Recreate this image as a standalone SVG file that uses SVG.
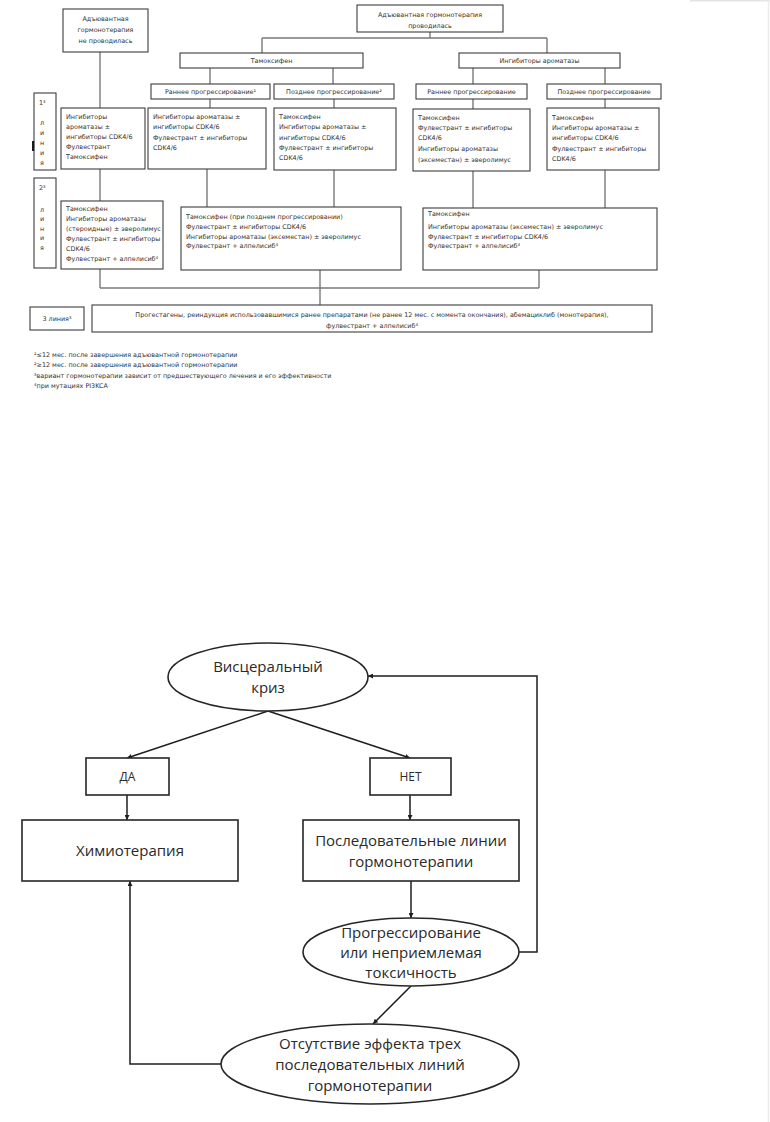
<svg xmlns="http://www.w3.org/2000/svg" width="770" height="1122" viewBox="0 0 770 1122">
<style>
.b{fill:#fff;stroke:#3c3c3c;stroke-width:1.1}
.t{font-family:"DejaVu Sans",Verdana,sans-serif;font-size:6.4px;fill:#333}
.c{text-anchor:middle}
.ln{stroke:#7a7a7a;stroke-width:1.4;fill:none}
.B{fill:#fff;stroke:#262626;stroke-width:1.6}
.T{font-family:"Open Sans","Liberation Sans",sans-serif;font-size:15px;fill:#2a2a2a;text-anchor:middle}
.S{font-size:12px}
.L{stroke:#1e1e1e;stroke-width:1.5;fill:none}
</style>
<defs>
<marker id="ah" viewBox="0 0 10 10" refX="10" refY="5" markerWidth="5" markerHeight="5" orient="auto" markerUnits="userSpaceOnUse">
<path d="M0,0 L10,5 L0,10 z" fill="#1e1e1e"/>
</marker>
</defs>
<rect width="770" height="1122" fill="#fff"/>
<line x1="690" y1="0.8" x2="770" y2="0.8" stroke="#e4e4e4" stroke-width="1.6"/>
<line x1="768.5" y1="0" x2="768.5" y2="1122" stroke="#ececec" stroke-width="1.5"/>

<g id="connectors-top">
<path class="ln" d="M430,32V38M262,38H547M262,38V53M547,38V53"/>
<path class="ln" d="M210,68V84M333,68V84M473,68V84M605,68V84"/>
<path class="ln" d="M210,99V108M334,99V108M473,99V109M605,99V108"/>
<path class="ln" d="M100,52V108M100,169V201M207,169V207M334,170V207M473,171V208M605,170V208"/>
<path class="ln" d="M100,269V288M320,270V288M539,270V288M100,288H539M320,288V305"/>
</g>

<g id="n-noadj"><rect class="b" x="63" y="9" width="85" height="43"/>
<text class="t c" x="105.5" y="21">Адъювантная</text><text class="t c" x="105.5" y="32">гормонотерапия</text><text class="t c" x="105.5" y="42.5">не проводилась</text></g>
<g id="n-adj"><rect class="b" x="357" y="5" width="146" height="27"/>
<text class="t c" x="430" y="17">Адъювантная  гормонотерапия</text><text class="t c" x="430" y="27.5">проводилась</text></g>
<g id="n-tam"><rect class="b" x="180" y="53" width="183" height="15"/><text class="t c" x="271.5" y="63">Тамоксифен</text></g>
<g id="n-ai"><rect class="b" x="459" y="53" width="161" height="15"/><text class="t c" x="539.5" y="63">Ингибиторы ароматазы</text></g>

<g id="p-a"><rect class="b" x="151" y="84" width="119" height="15"/><text class="t c" x="210.5" y="94">Раннее прогрессирование¹</text></g>
<g id="p-b"><rect class="b" x="274" y="84" width="120" height="15"/><text class="t c" x="334" y="94">Позднее прогрессирование²</text></g>
<g id="p-c"><rect class="b" x="416" y="84" width="111" height="15"/><text class="t c" x="471.5" y="94">Раннее прогрессирование</text></g>
<g id="p-d"><rect class="b" x="547" y="84" width="114" height="15"/><text class="t c" x="604" y="94">Позднее прогрессирование</text></g>

<g id="line1"><rect class="b" x="34" y="93" width="22" height="77"/>
<text class="t" x="39" y="105">1³</text>
<text class="t" x="40" y="125">л</text><text class="t" x="40" y="135">и</text><text class="t" x="40" y="145">н</text><text class="t" x="40" y="155">и</text><text class="t" x="40" y="165">я</text>
<rect x="32" y="141" width="2.2" height="10" fill="#1a1a1a"/></g>

<g id="c1-l"><rect class="b" x="61" y="108" width="84" height="61"/>
<text class="t" x="66" y="119">Ингибиторы</text><text class="t" x="66" y="129">ароматазы ±</text><text class="t" x="66" y="139">ингибиторы CDK4/6</text><text class="t" x="66" y="149">Фулвестрант</text><text class="t" x="66" y="159">Тамоксифен</text></g>
<g id="c1-a"><rect class="b" x="148" y="108" width="118" height="61"/>
<text class="t" x="153" y="119">Ингибиторы ароматазы ±</text><text class="t" x="153" y="129">ингибиторы CDK4/6</text><text class="t" x="153" y="140">Фулвестрант ± ингибиторы</text><text class="t" x="153" y="150">CDK4/6</text></g>
<g id="c1-b"><rect class="b" x="274" y="108" width="122" height="62"/>
<text class="t" x="279" y="119">Тамоксифен</text><text class="t" x="279" y="129">Ингибиторы ароматазы ±</text><text class="t" x="279" y="140">ингибиторы CDK4/6</text><text class="t" x="279" y="150">Фулвестрант ± ингибиторы</text><text class="t" x="279" y="160">CDK4/6</text></g>
<g id="c1-c"><rect class="b" x="413" y="109" width="117" height="62"/>
<text class="t" x="418" y="120">Тамоксифен</text><text class="t" x="418" y="130">Фулвестрант ± ингибиторы</text><text class="t" x="418" y="140">CDK4/6</text><text class="t" x="418" y="151">Ингибиторы ароматазы</text><text class="t" x="418" y="162">(эксеместан) ± эверолимус</text></g>
<g id="c1-d"><rect class="b" x="547" y="108" width="112" height="62"/>
<text class="t" x="552" y="120">Тамоксифен</text><text class="t" x="552" y="130">Ингибиторы ароматазы ±</text><text class="t" x="552" y="140">ингибиторы CDK4/6</text><text class="t" x="552" y="151">Фулвестрант ± ингибиторы</text><text class="t" x="552" y="161">CDK4/6</text></g>

<g id="line2"><rect class="b" x="34" y="178" width="22" height="90"/>
<text class="t" x="39" y="190">2³</text>
<text class="t" x="40" y="212">л</text><text class="t" x="40" y="221">и</text><text class="t" x="40" y="231">н</text><text class="t" x="40" y="240">и</text><text class="t" x="40" y="250">я</text></g>
<g id="c2-l"><rect class="b" x="61" y="201" width="102" height="68"/>
<text class="t" x="66" y="211">Тамоксифен</text><text class="t" x="66" y="221">Ингибиторы ароматазы</text><text class="t" x="66" y="231">(стероидные) ± эверолимус</text><text class="t" x="66" y="241">Фулвестрант ± ингибиторы</text><text class="t" x="66" y="251">CDK4/6</text><text class="t" x="66" y="261">Фулвестрант + алпелисиб⁴</text></g>
<g id="c2-m"><rect class="b" x="181" y="207" width="220" height="63"/>
<text class="t" x="186" y="219">Тамоксифен (при позднем прогрессировании)</text><text class="t" x="186" y="229">Фулвестрант ± ингибиторы CDK4/6</text><text class="t" x="186" y="239">Ингибиторы ароматазы (эксеместан) ± эверолимус</text><text class="t" x="186" y="248">Фулвестрант + алпелисиб⁴</text></g>
<g id="c2-r"><rect class="b" x="423" y="208" width="234" height="62"/>
<text class="t" x="428" y="216">Тамоксифен</text><text class="t" x="428" y="229">Ингибиторы ароматазы (эксеместан) ± эверолимус</text><text class="t" x="428" y="239">Фулвестрант ± ингибиторы CDK4/6</text><text class="t" x="428" y="248">Фулвестрант + алпелисиб⁴</text></g>

<g id="line3"><rect class="b" x="30" y="307" width="54" height="23"/><text class="t c" x="57" y="321">3 линия³</text></g>
<g id="c3"><rect class="b" x="92" y="305" width="560" height="27"/>
<text class="t c" x="372" y="317">Прогестагены, реиндукция использовавшимися ранее препаратами (не ранее 12 мес. с момента окончания), абемациклиб (монотерапия),</text>
<text class="t c" x="372" y="328">фулвестрант + алпелисиб⁴</text></g>

<g id="footnotes">
<text class="t" x="34" y="357">¹≤12 мес. после завершения адъювантной гормонотерапии</text>
<text class="t" x="34" y="367">²≥12 мес. после завершения адъювантной гормонотерапии</text>
<text class="t" x="34" y="378">³вариант гормонотерапии зависит от предшествующего лечения и его эффективности</text>
<text class="t" x="34" y="388">⁴при мутациях PI3KCA</text>
</g>

<g id="connectors-bottom">
<line class="L" x1="268" y1="711" x2="127" y2="758" marker-end="url(#ah)"/>
<line class="L" x1="268" y1="711" x2="410" y2="758" marker-end="url(#ah)"/>
<line class="L" x1="127" y1="795" x2="127" y2="820" marker-end="url(#ah)"/>
<line class="L" x1="410" y1="795" x2="410" y2="820" marker-end="url(#ah)"/>
<line class="L" x1="411" y1="881" x2="411" y2="918" marker-end="url(#ah)"/>
<polyline class="L" points="519,952 537,952 537,676 368,676" marker-end="url(#ah)"/>
<line class="L" x1="411" y1="986" x2="373" y2="1024" marker-end="url(#ah)"/>
<polyline class="L" points="221,1064 130,1064 130,881" marker-end="url(#ah)"/>
</g>

<g id="n-crisis"><ellipse class="B" cx="268" cy="677" rx="100" ry="34"/>
<text class="T" x="268" y="672">Висцеральный</text><text class="T" x="268" y="693">криз</text></g>
<g id="n-yes"><rect class="B" x="86" y="758" width="83" height="37"/><text class="T S" x="127.5" y="781">ДА</text></g>
<g id="n-no"><rect class="B" x="370" y="758" width="81" height="37"/><text class="T S" x="410.5" y="781">НЕТ</text></g>
<g id="n-chemo"><rect class="B" x="22" y="820" width="216" height="61"/><text class="T" x="130" y="856">Химиотерапия</text></g>
<g id="n-seq"><rect class="B" x="303" y="820" width="216" height="61"/>
<text class="T" x="411" y="846">Последовательные линии</text><text class="T" x="411" y="867">гормонотерапии</text></g>
<g id="n-prog"><ellipse class="B" cx="411" cy="952" rx="108" ry="34"/>
<text class="T" x="411" y="938">Прогрессирование</text><text class="T" x="411" y="958">или неприемлемая</text><text class="T" x="411" y="978">токсичность</text></g>
<g id="n-noeff"><ellipse class="B" cx="370" cy="1064" rx="149" ry="40"/>
<text class="T" x="370" y="1049">Отсутствие эффекта трех</text><text class="T" x="370" y="1070">последовательных линий</text><text class="T" x="370" y="1091">гормонотерапии</text></g>
</svg>
